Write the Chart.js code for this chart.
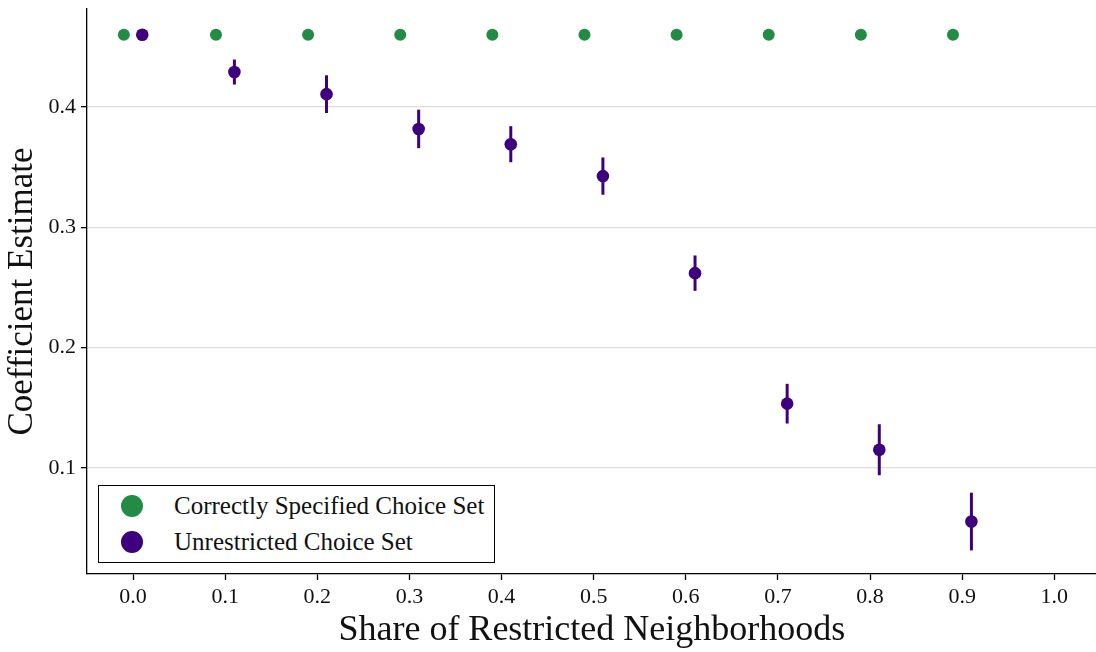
<!DOCTYPE html>
<html>
<head>
<meta charset="utf-8">
<script src="https://cdn.jsdelivr.net/npm/chart.js@4/dist/chart.umd.min.js"></script>
<style>
    html, body { margin: 0; padding: 0; background: #fff; overflow: hidden; }
    #wrap { position: relative; width: 1096px; height: 652px; overflow: hidden; }
    #legend {
        position: absolute; left: 98px; top: 485px; width: 397px; height: 78px;
        border: 1.3px solid #000; box-sizing: border-box; background: #fff;
        font-family: "Liberation Serif", serif; font-size: 25px; color: #111;
    }
    #legend .row { position: absolute; left: 0; height: 36px; display: flex; align-items: center; }
    #legend .dot { width: 22px; height: 22px; border-radius: 50%; margin-left: 22px; margin-right: 31px; }
</style>
</head>
<body>
<div id="wrap">
    <canvas id="chart" width="1103" height="652"></canvas>
    <div id="legend"></div>
</div>
<script>
const correctX = [-0.01, 0.09, 0.19, 0.29, 0.39, 0.49, 0.59, 0.69, 0.79, 0.89];
const correctY = [0.46, 0.46, 0.46, 0.46, 0.46, 0.46, 0.46, 0.46, 0.46, 0.46];

const unrestrictedX = [0.01, 0.11, 0.21, 0.31, 0.41, 0.51, 0.61, 0.71, 0.81, 0.91];
const unrestrictedY = [0.46, 0.429, 0.4106, 0.3817, 0.369, 0.3425, 0.2618, 0.1533, 0.115, 0.0553];
const unrestrictedErr = [0, 0.0104, 0.0157, 0.016, 0.015, 0.0155, 0.0147, 0.0165, 0.0212, 0.024];

const xTicks = [0.0, 0.1, 0.2, 0.3, 0.4, 0.5, 0.6, 0.7, 0.8, 0.9, 1.0];
const yTicks = [0.1, 0.2, 0.3, 0.4];

const seriesLabels = ['Correctly Specified Choice Set', 'Unrestricted Choice Set'];
const green = '#238b45';
const purple = '#3f007d';

const fontFamily = '"Liberation Serif", serif';

// error bars are drawn under the markers
const errorBars = {
    id: 'errorBars',
    beforeDatasetsDraw(chart) {
        const ctx = chart.ctx;
        const xs = chart.scales.x;
        const ys = chart.scales.y;
        ctx.save();
        ctx.strokeStyle = purple;
        ctx.lineWidth = 3;
        unrestrictedX.forEach((x, i) => {
            const e = unrestrictedErr[i];
            if (!e) return;
            const px = xs.getPixelForValue(x);
            ctx.beginPath();
            ctx.moveTo(px, ys.getPixelForValue(unrestrictedY[i] - e));
            ctx.lineTo(px, ys.getPixelForValue(unrestrictedY[i] + e));
            ctx.stroke();
        });
        ctx.restore();
    }
};

const chart = new Chart(document.getElementById('chart'), {
    type: 'scatter',
    data: {
        datasets: [
            {
                label: seriesLabels[0],
                data: correctX.map((x, i) => ({ x: x, y: correctY[i] })),
                backgroundColor: green,
                borderColor: green,
                pointRadius: 6,
                borderWidth: 0
            },
            {
                label: seriesLabels[1],
                data: unrestrictedX.map((x, i) => ({ x: x, y: unrestrictedY[i] })),
                backgroundColor: purple,
                borderColor: purple,
                pointRadius: 6.3,
                borderWidth: 0
            }
        ]
    },
    options: {
        responsive: false,
        animation: false,
        layout: { padding: { top: 9, right: 0, left: 0, bottom: 0 } },
        plugins: {
            legend: { display: false },
            tooltip: { enabled: false }
        },
        scales: {
            x: {
                type: 'linear',
                min: -0.05,
                max: 1.046,
                afterFit(s) {
                    s.height = 78;
                    s.paddingLeft = 0;
                    s.paddingRight = 0;
                },
                afterBuildTicks(s) { s.ticks = xTicks.map(v => ({ value: v })); },
                border: { color: '#000', width: 1.3 },
                grid: { drawOnChartArea: false, drawTicks: true, tickLength: 6, tickColor: '#000', tickWidth: 1.3 },
                ticks: {
                    color: '#111',
                    padding: 4,
                    font: { family: fontFamily, size: 22 },
                    callback: v => v.toFixed(1)
                },
                title: {
                    display: true,
                    text: 'Share of Restricted Neighborhoods',
                    color: '#111',
                    font: { family: fontFamily, size: 36 },
                    padding: { top: 5, bottom: 0 }
                }
            },
            y: {
                type: 'linear',
                min: 0.0117,
                max: 0.4814,
                afterFit(s) {
                    s.width = 87;
                    s.paddingTop = 0;
                    s.paddingBottom = 0;
                },
                afterBuildTicks(s) { s.ticks = yTicks.map(v => ({ value: v })); },
                border: { color: '#000', width: 1.3 },
                grid: { color: '#dddddd', lineWidth: 1.3, drawTicks: true, tickLength: 6, tickColor: '#000', tickWidth: 1.3 },
                ticks: {
                    color: '#111',
                    padding: 5,
                    font: { family: fontFamily, size: 22 },
                    callback: v => v.toFixed(1)
                },
                title: {
                    display: true,
                    text: 'Coefficient Estimate',
                    color: '#111',
                    font: { family: fontFamily, size: 35 },
                    padding: { top: 2, bottom: 2 }
                }
            }
        }
    },
    plugins: [errorBars]
});

// legend box inside the plot, built from the datasets
const legendEl = document.getElementById('legend');
chart.data.datasets.forEach((ds, i) => {
    const row = document.createElement('div');
    row.className = 'row';
    row.style.top = (2 + i * 36) + 'px';
    const dot = document.createElement('span');
    dot.className = 'dot';
    dot.style.background = ds.backgroundColor;
    const txt = document.createElement('span');
    txt.textContent = ds.label;
    row.appendChild(dot);
    row.appendChild(txt);
    legendEl.appendChild(row);
});
</script>
</body>
</html>
